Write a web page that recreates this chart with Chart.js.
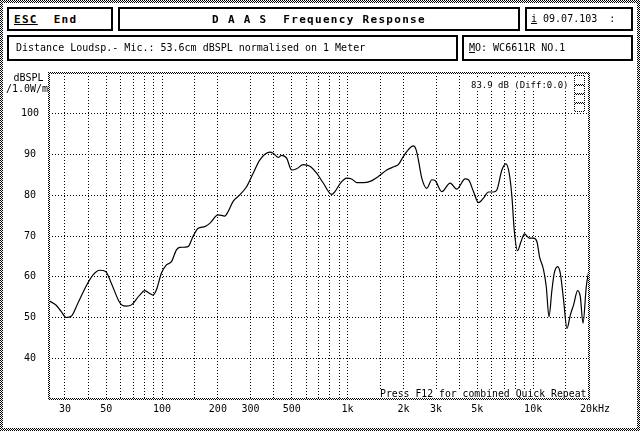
<!DOCTYPE html>
<html>
<head>
<meta charset="utf-8">
<script src="https://cdn.jsdelivr.net/npm/chart.js@4.4.1/dist/chart.umd.min.js"></script>
<style>
  html, body { margin: 0; padding: 0; background: #fff; }
  #wrap { position: relative; width: 640px; height: 431px; overflow: hidden; font-family: 'DejaVu Sans Mono', monospace; color: #000; }
  #chart { position: absolute; left: 0; top: 0; }
  .box { position: absolute; box-sizing: border-box; border: 2px solid #000; background: #fff; white-space: pre; font-size: 10px; line-height: 1; display: flex; align-items: center; }
  .big { font-size: 11px; font-weight: bold; letter-spacing: 1.3px; }
</style>
</head>
<body>
<div id="wrap">
  <canvas id="chart" width="640" height="431"></canvas>
  <div class="box big" style="left:7px;top:7px;width:106px;height:24px;padding-left:5px;"><u>ESC</u>  End</div>
  <div class="box big" style="left:118px;top:7px;width:402px;height:24px;justify-content:center;">D A A S  Frequency Response</div>
  <div class="box" style="left:525px;top:7px;width:108px;height:24px;padding-left:4px;"><u>i</u> 09.07.103  :</div>
  <div class="box" style="left:7px;top:35px;width:451px;height:26px;padding-left:7px;">Distance Loudsp.- Mic.: 53.6cm dBSPL normalised on 1 Meter</div>
  <div class="box" style="left:462px;top:35px;width:171px;height:26px;padding-left:5px;"><u>M</u>O: WC6611R NO.1</div>
</div>
<script>
const freqs = [24.6, 26.9, 28.6, 30.5, 32.4, 35.2, 39.1, 42.4, 46.1, 49.7, 53.3, 58.6, 61, 64.3, 68.4,
  75.8, 80.7, 85.8, 89.4, 93.3, 99.3, 105.6, 112.4, 119.6, 124.6, 138.1, 147, 156.5, 170, 180.8,
  200.6, 218, 227.1, 241.6, 262.6, 285.5, 309.8, 336.9, 381.3, 397.2, 422.7, 441, 469.3, 499.3,
  531.3, 576.8, 626.9, 681.2, 739.5, 821, 855, 910, 989, 1052, 1120, 1215, 1321, 1464, 1626,
  1802, 1877, 1998, 2126, 2262, 2339, 2407, 2511, 2673, 2844, 2963, 3220, 3569, 3880, 4301,
  4481, 4769, 5074, 5400, 5745, 6113, 6376, 6785, 7134, 7430, 7684, 7907, 8240, 8597, 8986,
  9528, 10051, 10484, 10828, 11379, 11768, 12170, 12630, 12995, 13540, 14003, 14588, 15220,
  15858, 16520, 17360, 17955, 18570, 19340, 20000];
const levels = [54.1, 53.0, 51.5, 50.0, 50.3, 53.5, 57.8, 60.4, 61.6, 61.3, 58.4, 54.0, 53.0, 52.8, 53.1,
  55.5, 56.6, 55.9, 55.5, 56.8, 60.9, 62.9, 63.7, 66.6, 67.2, 67.4, 69.9, 71.9, 72.3, 73.1,
  75.2, 74.9, 76.0, 78.5, 80.1, 82.1, 85.4, 88.7, 90.6, 90.3, 89.3, 89.8, 89.1, 86.2,
  86.5, 87.5, 87.1, 85.4, 83.0, 80.2, 80.9, 82.8, 84.2, 84.0, 83.1, 83.1, 83.4, 84.6, 86.2,
  87.1, 87.5, 89.5, 91.2, 92.1, 91.2, 88.7, 84.2, 81.7, 83.8, 83.6, 80.9, 83.0, 81.5, 84.0,
  83.8, 80.9, 78.2, 79.3, 80.8, 80.8, 81.3, 86.2, 87.7, 85.4, 79.7, 71.5, 66.4, 68.6, 70.5,
  69.5, 69.5, 68.6, 64.9, 61.7, 57.6, 50.2, 56.8, 60.9, 62.5, 60.9, 54.3, 47.3,
  50.6, 53.1, 56.6, 55.1, 48.6, 57.6, 61.7];

const gridFreqs = [30, 40, 50, 60, 70, 80, 90, 100, 150, 200, 300, 400, 500, 600, 700, 800, 900,
  1000, 1500, 2000, 3000, 4000, 5000, 6000, 7000, 8000, 9000, 10000, 15000, 20000];
const xLabelFreqs = [30, 50, 100, 200, 300, 500, 1000, 2000, 3000, 5000, 10000, 20000];
const xLabelTexts = ['30', '50', '100', '200', '300', '500', '1k', '2k', '3k', '5k', '10k', '  20kHz'];
const yTicks = [40, 50, 60, 70, 80, 90, 100];

const MONO = "'DejaVu Sans Mono', monospace";

function dither(ctx) {
    const c = document.createElement('canvas');
    c.width = 2; c.height = 2;
    const g = c.getContext('2d');
    g.fillStyle = '#fff'; g.fillRect(0, 0, 2, 2);
    g.fillStyle = '#000'; g.fillRect(0, 0, 1, 1); g.fillRect(1, 1, 1, 1);
    return ctx.createPattern(c, 'repeat');
}

// frames and the loose texts of the old DOS screen
const screenPlugin = {
    id: 'screen',
    afterDraw(chart) {
        const ctx = chart.ctx;
        const a = chart.chartArea;
        const pat = dither(ctx);
        ctx.save();

        ctx.font = '10px ' + MONO;
        ctx.fillStyle = '#000';
        ctx.textAlign = 'center';
        ctx.textBaseline = 'middle';
        ctx.fillText('dBSPL', 28.5, 78);
        ctx.fillText('/1.0W/m', 27, 89);

        ctx.textAlign = 'left';
        ctx.font = '9px ' + MONO;
        let w = ctx.measureText('83.9 dB (Diff:0.0)').width;
        ctx.fillStyle = '#fff';
        ctx.fillRect(469, 79, w + 4, 12);
        ctx.fillStyle = '#000';
        ctx.fillText('83.9 dB (Diff:0.0)', 471, 85.5);

        ctx.font = '9.8px ' + MONO;
        w = ctx.measureText('Press F12 for combined Quick Repeat').width;
        ctx.fillStyle = '#fff';
        ctx.fillRect(378, 389, w + 4, 10);
        ctx.fillStyle = '#000';
        ctx.fillText('Press F12 for combined Quick Repeat', 380, 394.5);

        ctx.fillStyle = pat;
        // little scroll icon in the top right corner
        ctx.fillStyle = '#fff';
        ctx.fillRect(a.right - 16, a.top + 1, 14, 39);
        ctx.strokeStyle = pat;
        ctx.lineWidth = 1;
        [[2, 9], [12, 8], [21, 8], [30, 8]].forEach(([dy, h]) => {
            ctx.strokeRect(a.right - 14.5, a.top + dy + 0.5, 10, h);
        });
        ctx.fillStyle = pat;
        // plot frame
        ctx.fillRect(a.left - 1, a.top - 1, 2, a.bottom - a.top + 2);
        ctx.fillRect(a.right - 1, a.top - 1, 2, a.bottom - a.top + 2);
        ctx.fillRect(a.left - 1, a.top - 1, a.right - a.left + 2, 2);
        ctx.fillRect(a.left - 1, a.bottom - 1, a.right - a.left + 2, 2);
        // outer frame
        const W = chart.width, H = chart.height;
        ctx.fillRect(0, 0, W, 3);
        ctx.fillRect(0, H - 3, W, 3);
        ctx.fillRect(0, 0, 3, H);
        ctx.fillRect(W - 3, 0, 3, H);
        ctx.restore();
    }
};

new Chart(document.getElementById('chart').getContext('2d'), {
    type: 'line',
    data: {
        datasets: [{
            data: freqs.map((f, i) => ({ x: f, y: levels[i] })),
            borderColor: '#000',
            borderWidth: 1.2,
            pointRadius: 0,
            fill: false,
            cubicInterpolationMode: 'monotone'
        }]
    },
    options: {
        responsive: false,
        animation: false,
        events: [],
        layout: { padding: { left: 0, top: 73, right: 51, bottom: 0 } },
        plugins: { legend: { display: false }, tooltip: { enabled: false } },
        scales: {
            x: {
                type: 'logarithmic',
                min: 24.6,
                max: 20000,
                afterBuildTicks: (s) => { s.ticks = gridFreqs.map(v => ({ value: v })); },
                afterFit: (s) => { s.height = 32; },
                grid: { color: '#000', lineWidth: 1, drawTicks: false },
                border: { display: false, dash: [1, 2] },
                ticks: {
                    autoSkip: false,
                    maxRotation: 0,
                    padding: 4,
                    color: '#000',
                    font: { family: MONO, size: 10 },
                    callback: (v) => {
                        const i = xLabelFreqs.indexOf(v);
                        return i >= 0 ? xLabelTexts[i] : '';
                    }
                }
            },
            y: {
                min: 30,
                max: 110,
                afterBuildTicks: (s) => { s.ticks = yTicks.map(v => ({ value: v })); },
                afterFit: (s) => { s.width = 49; },
                grid: { color: '#000', lineWidth: 1, drawTicks: false },
                border: { display: false, dash: [1, 2] },
                ticks: {
                    padding: 10,
                    crossAlign: 'center',
                    color: '#000',
                    font: { family: MONO, size: 10 }
                }
            }
        }
    },
    plugins: [screenPlugin]
});
</script>
</body>
</html>
